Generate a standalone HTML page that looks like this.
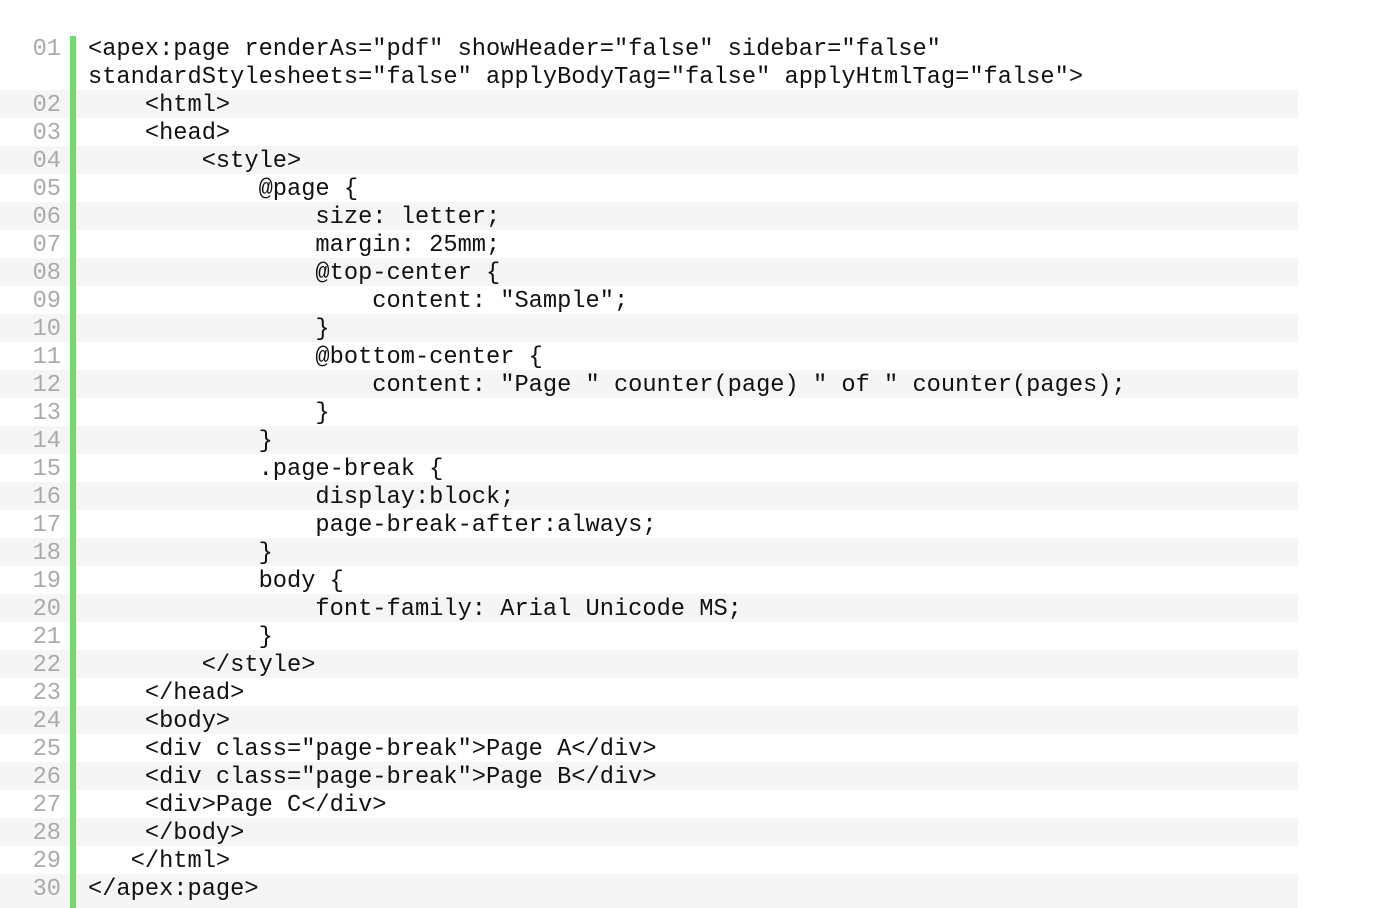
<!DOCTYPE html>
<html><head><style>
body{margin:0;width:1376px;height:908px;background:#fff;overflow:hidden;position:relative;font-family:"Liberation Mono",monospace;font-size:23.7px;}
.r{position:absolute;left:0;width:1298px;height:28px;line-height:28px;white-space:pre;}
.g{background:#f5f5f5;}
.n{position:absolute;left:0;top:2px;width:61px;text-align:right;color:#aaa;}
.c{position:absolute;left:88px;top:2px;color:#111;}
.bar{position:absolute;left:70px;top:36px;width:6px;height:872px;background:#6fdc6f;}
</style></head><body>
<div class="r" style="top:34px;height:56px"><span class="n">01</span><span class="c">&lt;apex:page renderAs="pdf" showHeader="false" sidebar="false"
standardStylesheets="false" applyBodyTag="false" applyHtmlTag="false"&gt;</span></div>
<div class="r g" style="top:90px"><span class="n">02</span><span class="c">    &lt;html&gt;</span></div>
<div class="r" style="top:118px"><span class="n">03</span><span class="c">    &lt;head&gt;</span></div>
<div class="r g" style="top:146px"><span class="n">04</span><span class="c">        &lt;style&gt;</span></div>
<div class="r" style="top:174px"><span class="n">05</span><span class="c">            @page {</span></div>
<div class="r g" style="top:202px"><span class="n">06</span><span class="c">                size: letter;</span></div>
<div class="r" style="top:230px"><span class="n">07</span><span class="c">                margin: 25mm;</span></div>
<div class="r g" style="top:258px"><span class="n">08</span><span class="c">                @top-center {</span></div>
<div class="r" style="top:286px"><span class="n">09</span><span class="c">                    content: "Sample";</span></div>
<div class="r g" style="top:314px"><span class="n">10</span><span class="c">                }</span></div>
<div class="r" style="top:342px"><span class="n">11</span><span class="c">                @bottom-center {</span></div>
<div class="r g" style="top:370px"><span class="n">12</span><span class="c">                    content: "Page " counter(page) " of " counter(pages);</span></div>
<div class="r" style="top:398px"><span class="n">13</span><span class="c">                }</span></div>
<div class="r g" style="top:426px"><span class="n">14</span><span class="c">            }</span></div>
<div class="r" style="top:454px"><span class="n">15</span><span class="c">            .page-break {</span></div>
<div class="r g" style="top:482px"><span class="n">16</span><span class="c">                display:block;</span></div>
<div class="r" style="top:510px"><span class="n">17</span><span class="c">                page-break-after:always;</span></div>
<div class="r g" style="top:538px"><span class="n">18</span><span class="c">            }</span></div>
<div class="r" style="top:566px"><span class="n">19</span><span class="c">            body {</span></div>
<div class="r g" style="top:594px"><span class="n">20</span><span class="c">                font-family: Arial Unicode MS;</span></div>
<div class="r" style="top:622px"><span class="n">21</span><span class="c">            }</span></div>
<div class="r g" style="top:650px"><span class="n">22</span><span class="c">        &lt;/style&gt;</span></div>
<div class="r" style="top:678px"><span class="n">23</span><span class="c">    &lt;/head&gt;</span></div>
<div class="r g" style="top:706px"><span class="n">24</span><span class="c">    &lt;body&gt;</span></div>
<div class="r" style="top:734px"><span class="n">25</span><span class="c">    &lt;div class="page-break"&gt;Page A&lt;/div&gt;</span></div>
<div class="r g" style="top:762px"><span class="n">26</span><span class="c">    &lt;div class="page-break"&gt;Page B&lt;/div&gt;</span></div>
<div class="r" style="top:790px"><span class="n">27</span><span class="c">    &lt;div&gt;Page C&lt;/div&gt;</span></div>
<div class="r g" style="top:818px"><span class="n">28</span><span class="c">    &lt;/body&gt;</span></div>
<div class="r" style="top:846px"><span class="n">29</span><span class="c">   &lt;/html&gt;</span></div>
<div class="r g" style="top:874px;height:34px"><span class="n">30</span><span class="c">&lt;/apex:page&gt;</span></div>
<div class="bar"></div>
</body></html>
